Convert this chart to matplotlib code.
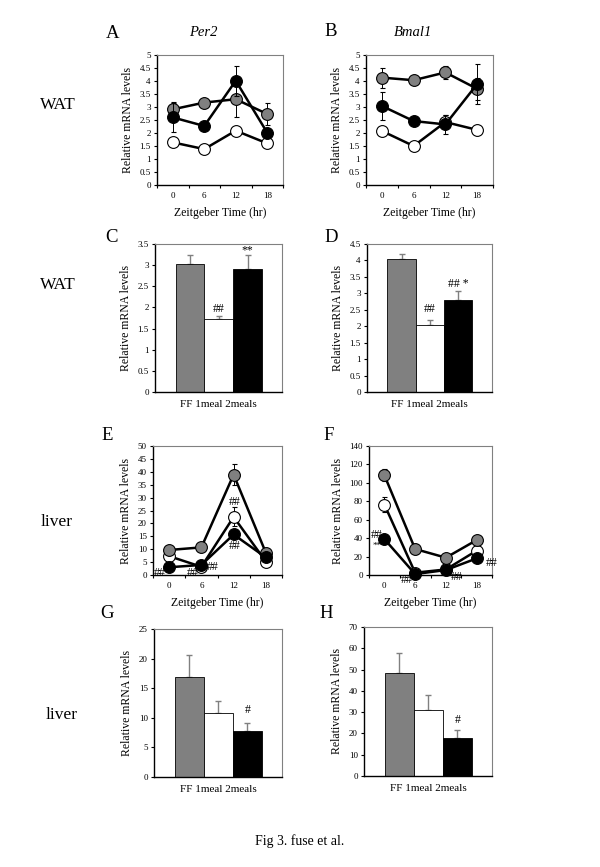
import numpy as np
import matplotlib
matplotlib.use('Agg')
import matplotlib.pyplot as plt

plt.rcParams['font.family'] = ['Liberation Serif', 'DejaVu Serif']

# data
hours = ['0', '6', '12', '18']
groups = ['FF', '1meal', '2meals']

a_ff = [2.91, 3.17, 3.30, 2.73]
a_ff_err = [0.27, 0.12, 0.70, 0.41]
a_1meal = [1.64, 1.38, 2.09, 1.60]
a_1meal_err = [0.05, 0.05, 0.10, 0.05]
a_2meals = [2.60, 2.27, 4.01, 2.01]
a_2meals_err = [0.57, 0.15, 0.57, 0.10]

b_ff = [4.13, 4.03, 4.33, 3.70]
b_ff_err = [0.38, 0.08, 0.26, 0.42]
b_1meal = [2.08, 1.50, 2.42, 2.12]
b_1meal_err = [0.05, 0.05, 0.28, 0.05]
b_2meals = [3.04, 2.46, 2.33, 3.88]
b_2meals_err = [0.55, 0.08, 0.35, 0.76]

c_vals = [3.03, 1.72, 2.92]
c_err = [0.20, 0.08, 0.31]
d_vals = [4.04, 2.05, 2.80]
d_err = [0.16, 0.13, 0.26]

e_ff = [9.7, 10.7, 38.9, 8.6]
e_ff_err = [0.8, 0.5, 4.0, 0.5]
e_1meal = [7.3, 3.2, 22.5, 5.2]
e_1meal_err = [0.5, 0.3, 3.7, 0.5]
e_2meals = [3.0, 3.9, 15.7, 6.8]
e_2meals_err = [0.5, 0.5, 1.5, 0.5]

f_ff = [108.3, 28.2, 18.8, 37.9]
f_ff_err = [6.5, 5.0, 2.0, 2.0]
f_1meal = [76.5, 2.5, 6.0, 26.4]
f_1meal_err = [8.0, 1.0, 1.0, 2.0]
f_2meals = [39.0, 1.0, 5.4, 18.0]
f_2meals_err = [3.0, 0.5, 1.0, 2.0]

g_vals = [16.9, 10.8, 7.8]
g_err = [3.7, 2.0, 1.4]
h_vals = [48.3, 30.8, 17.8]
h_err = [9.6, 7.2, 3.7]

GREY = '#808080'
W, H = 600, 867
fig = plt.figure(figsize=(6, 8.67), dpi=100)


def px_axes(l, t, r, b):
    return fig.add_axes([l / W, 1 - b / H, (r - l) / W, (b - t) / H])


def style(ax, ymax, ystep):
    ax.set_ylim(0, ymax)
    ticks = np.arange(0, ymax + ystep / 2, ystep)
    ax.set_yticks(ticks)
    ax.set_yticklabels(['%g' % t for t in ticks])
    ax.tick_params(axis='y', labelsize=6.5, length=2.5, width=0.8, pad=2)
    ax.set_ylabel('Relative mRNA levels', fontsize=8.5, labelpad=4)
    for s in ['top', 'right']:
        ax.spines[s].set_color(GREY)
        ax.spines[s].set_linewidth(0.8)
    for s in ['left', 'bottom']:
        ax.spines[s].set_linewidth(1.0)


def line_panel(ax, ff, ff_e, m1, m1_e, m2, m2_e, ymax, ystep):
    x = np.arange(len(hours))
    series = [(m1, m1_e, 'white'), (ff, ff_e, GREY), (m2, m2_e, 'black')]
    for z, (vals, err, fc) in enumerate(series):
        ax.errorbar(x, vals, yerr=err, fmt='-o', color='black', lw=1.8,
                    ms=8.5, mfc=fc, mec='black', mew=0.8,
                    ecolor='black', elinewidth=0.7, capsize=1.8, capthick=0.7,
                    zorder=3 + z, clip_on=False)
    ax.set_xlim(-0.5, len(hours) - 0.5)
    ax.set_xticks(np.arange(-0.5, len(hours), 1.0))
    ax.set_xticklabels([])
    ax.set_xticks(x, minor=True)
    ax.set_xticklabels(hours, minor=True)
    ax.tick_params(axis='x', which='major', length=2.5, width=0.8)
    ax.tick_params(axis='x', which='minor', length=0, labelsize=6.5, pad=5)
    ax.set_xlabel('Zeitgeber Time (hr)', fontsize=8.5, labelpad=5)
    style(ax, ymax, ystep)


def bar_panel(ax, vals, err, ymax, ystep):
    x = np.arange(len(groups))
    colors = [GREY, 'white', 'black']
    ax.bar(x, vals, width=1.0, color=colors, edgecolor='black', lw=0.6, zorder=2)
    for i in range(len(groups)):
        ax.errorbar(x[i], vals[i], yerr=[[0], [err[i]]], fmt='none',
                    ecolor=GREY, elinewidth=1.0, capsize=2, capthick=1.0, zorder=1)
    ax.set_xlim(-1.22, 3.2)
    ax.set_xticks([])
    ax.set_xlabel('FF 1meal 2meals', fontsize=8, labelpad=6)
    style(ax, ymax, ystep)


axA = px_axes(157, 55, 283, 185)
line_panel(axA, a_ff, a_ff_err, a_1meal, a_1meal_err, a_2meals, a_2meals_err, 5, 0.5)
axB = px_axes(366, 55, 493, 185)
line_panel(axB, b_ff, b_ff_err, b_1meal, b_1meal_err, b_2meals, b_2meals_err, 5, 0.5)

axC = px_axes(155, 244, 282, 392)
bar_panel(axC, c_vals, c_err, 3.5, 0.5)
axC.text(1, 1.97, '##', ha='center', va='center', fontsize=8.5)
axC.text(2, 3.36, '**', ha='center', va='center', fontsize=8.5)

axD = px_axes(367, 244, 492, 392)
bar_panel(axD, d_vals, d_err, 4.5, 0.5)
axD.text(1, 2.53, '##', ha='center', va='center', fontsize=8.5)
axD.text(2, 3.28, '## *', ha='center', va='center', fontsize=8.5)

axE = px_axes(153, 446, 282, 575)
line_panel(axE, e_ff, e_ff_err, e_1meal, e_1meal_err, e_2meals, e_2meals_err, 50, 5)
for xx, yy in [(-0.28, 0.8), (0.74, 0.8), (1.36, 3.0), (2.04, 28.3), (2.04, 11.2)]:
    axE.text(xx, yy, '##', ha='center', va='center', fontsize=8.5, zorder=10, clip_on=False)

axF = px_axes(369, 446, 492, 575)
line_panel(axF, f_ff, f_ff_err, f_1meal, f_1meal_err, f_2meals, f_2meals_err, 140, 20)
for xx, yy in [(-0.24, 43.4), (0.73, -5.4), (2.36, -2.2), (3.5, 13.0)]:
    axF.text(xx, yy, '##', ha='center', va='center', fontsize=8.5, zorder=10, clip_on=False)
axF.text(-0.24, 31.5, '**', ha='center', va='center', fontsize=6.5, zorder=10)

axG = px_axes(154, 629, 282, 777)
bar_panel(axG, g_vals, g_err, 25, 5)
axG.text(2, 11.3, '#', ha='center', va='center', fontsize=8.5)

axH = px_axes(364, 627, 492, 776)
bar_panel(axH, h_vals, h_err, 70, 10)
axH.text(2, 26.5, '#', ha='center', va='center', fontsize=8.5)


# panel letters, gene names, tissue labels
def ftext(x, y, s, **kw):
    fig.text(x / W, 1 - y / H, s, ha='center', va='center', **kw)


for s, x, y in [('A', 113, 33), ('B', 331, 32), ('C', 112, 237), ('D', 331, 237),
                ('E', 107, 436), ('F', 329, 436), ('G', 107, 614), ('H', 326, 614)]:
    ftext(x, y, s, fontsize=13.5)
ftext(203, 33, 'Per2', fontsize=10.5, style='italic')
ftext(413, 33, 'Bmal1', fontsize=10.5, style='italic')
for s, x, y in [('WAT', 58, 105), ('WAT', 58, 285), ('liver', 57, 522), ('liver', 62, 715)]:
    ftext(x, y, s, fontsize=12.5)
ftext(300, 841, 'Fig 3. fuse et al.', fontsize=10)

fig.savefig('out.png', dpi=100)
